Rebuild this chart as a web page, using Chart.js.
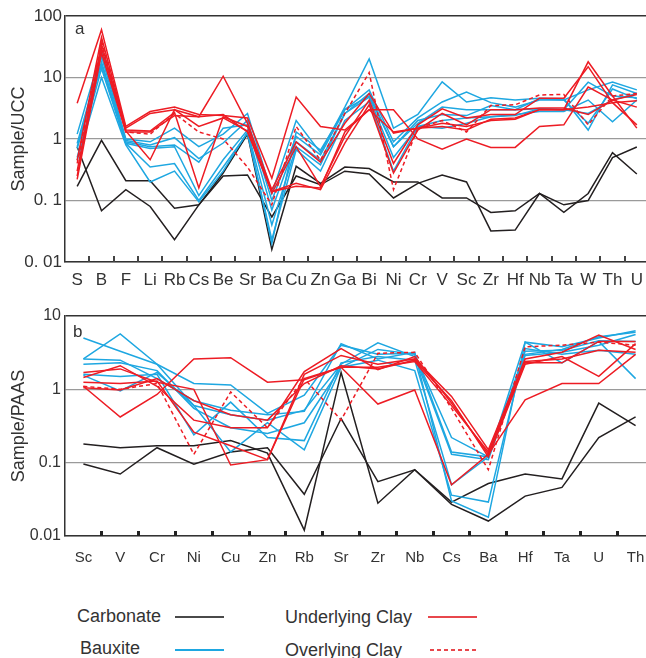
<!DOCTYPE html>
<html>
<head>
<meta charset="utf-8">
<script src="https://cdn.jsdelivr.net/npm/chart.js@4.4.1/dist/chart.umd.min.js"></script>
<style>
  html, body { margin: 0; padding: 0; background: #fff; overflow: hidden; width: 646px; height: 658px; }
  canvas { position: absolute; left: 0; }
  #chartA { top: 0; }
  #chartB { top: 290px; }
  .leg { position: absolute; font-family: "Liberation Sans", Arial, sans-serif; font-size: 18px; line-height: 20px; color: #333; white-space: nowrap; }
  .sw { position: absolute; height: 2px; width: 49px; }
</style>
</head>
<body>
<canvas id="chartA" width="660" height="300"></canvas>
<canvas id="chartB" width="660" height="290"></canvas>

<div class="leg" style="left:77px; top:606px;">Carbonate</div>
<div class="sw" style="left:175px; top:616px; background:#4a4a4a;"></div>
<div class="leg" style="left:80px; top:638px;">Bauxite</div>
<div class="sw" style="left:175px; top:649px; background:#1ea7e1;"></div>
<div class="leg" style="left:285px; top:607px;">Underlying Clay</div>
<div class="sw" style="left:428px; top:616px; background:#e8474c;"></div>
<div class="leg" style="left:285px; top:640px;">Overlying Clay</div>
<div class="sw" style="left:430px; top:649px; background:repeating-linear-gradient(to right,#e8474c 0 4px,transparent 4px 7px);"></div>

<script>
// ---- panel a : normalised to UCC ----
const uccElements = ['S','B','F','Li','Rb','Cs','Be','Sr','Ba','Cu','Zn','Ga','Bi','Ni','Cr','V','Sc','Zr','Hf','Nb','Ta','W','Th','U'];

const uccCarbonate = [
  [0.75,0.068,0.15,0.08,0.023,0.085,0.28,1.2,0.016,0.36,0.19,0.35,0.33,0.2,0.2,0.11,0.11,0.064,0.068,0.13,0.064,0.13,0.6,0.27],
  [0.17,0.95,0.21,0.21,0.075,0.085,0.25,0.26,0.054,0.25,0.18,0.3,0.27,0.11,0.19,0.26,0.2,0.032,0.033,0.13,0.085,0.1,0.5,0.74]
];
const uccBauxite = [
  [1.2,27,1.0,0.9,1.5,0.75,1.2,2.6,0.13,2.0,0.6,3.3,20,1.5,2.5,8.5,4.0,4.7,4.3,4.6,4.5,1.4,7.6,5.5],
  [0.85,22,0.95,0.8,1.05,0.48,0.86,2.0,0.1,1.1,0.55,3.0,6.3,0.9,2.2,4.0,5.8,3.9,3.3,4.3,4.3,6.3,8.4,6.3],
  [0.75,18,0.9,0.75,0.8,0.42,1.5,1.7,0.07,0.9,0.45,2.6,5.5,0.75,1.8,3.3,3.0,3.0,3.0,3.1,3.0,8.4,5.0,4.7],
  [0.7,16,0.85,0.7,0.75,0.12,0.46,1.4,0.04,0.75,0.38,2.6,4.8,0.5,1.6,2.0,2.2,2.3,2.5,2.8,2.8,4.3,1.9,4.3],
  [0.5,14,0.85,0.35,0.4,0.1,0.35,1.25,0.023,0.67,0.3,2.0,4.0,0.3,1.6,1.5,1.8,2.3,2.4,3.1,3.0,2.6,4.3,5.5],
  [0.45,10,0.8,0.2,0.3,0.095,0.3,1.3,0.02,1.3,0.66,3.0,5.0,0.75,2.0,2.5,2.4,3.5,3.0,4.5,4.3,1.8,6.5,4.5]
];
const uccUnderlying = [
  [3.8,60,1.6,2.8,3.3,2.5,2.4,2.2,0.23,4.8,1.6,1.4,3.0,3.0,1.0,0.68,1.0,0.73,0.73,1.6,1.7,7.0,4.3,3.3],
  [0.45,45,1.5,2.6,3.0,2.3,10.5,1.8,0.15,0.9,0.42,1.8,5.5,1.25,1.5,1.6,1.4,2.1,2.2,3.0,3.0,18,5.0,1.5],
  [0.3,35,1.4,1.35,2.7,0.16,2.3,1.6,0.13,0.75,0.17,1.1,4.3,0.4,1.7,3.1,2.2,2.5,2.5,4.6,4.6,15,3.9,1.7],
  [0.25,30,1.35,0.46,3.0,1.6,2.2,1.35,0.14,0.19,0.15,0.86,3.6,0.28,1.4,2.6,1.7,3.0,3.0,3.2,3.2,2.5,4.3,5.3],
  [0.22,25,1.3,1.3,2.4,2.3,2.5,1.3,0.14,0.17,0.16,1.3,3.0,1.3,1.5,1.8,1.6,2.0,2.1,3.0,3.0,3.3,3.9,4.2]
];
const uccOverlying = [
  [0.4,40,1.3,1.2,2.6,1.3,1.0,0.35,0.085,1.6,0.45,2.6,12,0.15,1.5,2.0,1.3,3.5,3.6,5.2,5.3,1.7,5.0,5.5]
];

// ---- panel b : normalised to PAAS ----
const paasElements = ['Sc','V','Cr','Ni','Cu','Zn','Rb','Sr','Zr','Nb','Cs','Ba','Hf','Ta','U','Th'];

const paasCarbonate = [
  [0.18,0.16,0.17,0.17,0.2,0.135,0.012,1.7,0.028,0.08,0.029,0.052,0.07,0.06,0.65,0.32],
  [0.096,0.07,0.16,0.095,0.14,0.16,0.037,0.4,0.055,0.08,0.027,0.016,0.035,0.046,0.22,0.42]
];
const paasBauxite = [
  [5.0,3.3,2.2,1.2,1.15,0.47,0.83,4.0,3.0,3.1,0.14,0.12,4.4,2.3,4.5,1.4],
  [2.6,5.7,2.2,0.6,0.45,0.38,0.52,2.2,4.3,2.8,0.13,0.11,3.0,3.5,5.2,6.0],
  [2.2,2.3,1.8,0.55,0.3,0.25,0.35,2.0,3.5,3.0,0.22,0.12,2.9,3.2,4.0,5.6],
  [1.6,1.5,1.6,0.24,0.67,0.22,0.2,2.3,2.8,2.5,0.05,0.12,3.3,3.4,4.6,4.5],
  [1.55,0.95,1.7,0.6,0.14,0.35,0.15,2.0,2.5,1.8,0.036,0.029,3.6,3.0,3.4,3.0],
  [2.6,2.5,1.4,0.7,0.52,0.45,0.5,4.2,2.6,3.2,0.03,0.018,4.4,3.8,5.0,6.3]
];
const paasUnderlying = [
  [1.1,0.42,0.85,2.6,2.7,1.25,1.35,2.0,0.63,0.98,0.05,0.13,0.72,1.2,1.2,3.0],
  [1.7,1.9,1.25,1.0,0.093,0.11,1.6,2.9,2.2,2.6,0.8,0.15,2.6,3.2,5.5,3.5],
  [1.45,2.1,1.1,0.38,0.3,0.3,1.75,3.6,1.85,2.8,0.65,0.13,2.3,2.3,4.5,4.5],
  [1.25,1.2,1.3,0.26,0.17,0.11,1.4,2.0,2.0,2.4,0.6,0.14,2.4,2.6,3.4,3.2],
  [1.05,0.98,1.4,0.7,0.45,0.38,1.2,2.1,1.9,2.5,0.7,0.12,2.2,2.8,1.5,4.2]
];
const paasOverlying = [
  [1.1,1.0,1.2,0.13,0.92,0.3,1.4,0.38,3.1,3.2,0.55,0.08,3.8,4.0,4.4,4.0]
];

const RED = '#ed1c24', BLUE = '#1ea7e1', BLACK = '#231f20';
const FONT = '"Liberation Sans", Arial, sans-serif';

// small tick marks between categories + panel letter
const panelDecor = {
  id: 'panelDecor',
  afterDraw(chart, args, opts) {
    const {ctx, chartArea: area} = chart;
    const x = chart.scales.x;
    const n = chart.data.labels.length;
    ctx.save();
    ctx.fillStyle = opts.tickColor;
    for (let i = 0; i < n - 1; i++) {
      const px = (x.getPixelForValue(i) + x.getPixelForValue(i + 1)) / 2;
      ctx.fillRect(Math.round(px - opts.tickWidth / 2), area.bottom - opts.tickLen, opts.tickWidth, opts.tickLen);
    }
    ctx.fillStyle = '#333';
    ctx.font = '17px ' + FONT;
    ctx.textBaseline = 'middle';
    ctx.fillText(opts.letter, area.left + opts.lx, area.top + opts.ly);
    ctx.restore();
  }
};

function makePanel(id, labels, groups, cfg) {
  const datasets = [];
  groups.forEach(g => {
    g.rows.forEach(row => {
      datasets.push({
        data: row,
        borderColor: g.color,
        borderDash: g.dash || [],
        borderWidth: 1.5,
        pointRadius: 0,
        tension: 0,
        fill: false
      });
    });
  });

  return new Chart(document.getElementById(id), {
    type: 'line',
    data: { labels: labels, datasets: datasets },
    options: {
      responsive: false,
      animation: false,
      devicePixelRatio: 1,
      layout: { padding: cfg.padding },
      plugins: {
        legend: { display: false },
        tooltip: { enabled: false },
        panelDecor: cfg.decor
      },
      scales: {
        x: {
          offset: true,
          grid: { display: false, drawTicks: false },
          border: { color: '#333', width: 1.5 },
          ticks: {
            color: '#333', autoSkip: false, maxRotation: 0,
            font: { family: FONT, size: cfg.xFont },
            padding: cfg.xPad
          },
          afterFit: s => { s.height = cfg.xHeight; }
        },
        y: {
          type: 'logarithmic',
          min: cfg.yTicks[0],
          max: cfg.yTicks[cfg.yTicks.length - 1],
          afterBuildTicks: s => { s.ticks = cfg.yTicks.map(v => ({ value: v })); },
          afterFit: s => { s.width = 65; },
          border: { color: '#333', width: 1.5 },
          grid: {
            drawTicks: false,
            color: c => (c.tick && c.tick.value === cfg.yTicks[cfg.yTicks.length - 1]) ? '#333' : '#9a9a9a',
            lineWidth: c => (c.tick && c.tick.value === cfg.yTicks[cfg.yTicks.length - 1]) ? 1.5 : 1.2
          },
          ticks: {
            color: '#333',
            padding: cfg.yPad,
            font: { family: FONT, size: cfg.yFont },
            callback: (v, i) => cfg.yLabels[i]
          },
          title: {
            display: true,
            text: cfg.yTitle,
            color: '#333',
            font: { family: FONT, size: 18 },
            padding: { top: 8, bottom: 0 }
          }
        }
      }
    },
    plugins: [panelDecor]
  });
}

makePanel('chartA', uccElements, [
  { rows: uccUnderlying, color: RED },
  { rows: uccOverlying, color: RED, dash: [4, 3] },
  { rows: uccBauxite, color: BLUE },
  { rows: uccCarbonate, color: BLACK }
], {
  padding: { top: 16, right: 11, left: 0, bottom: 0 },
  xFont: 17, xPad: 8, xHeight: 38,
  yTicks: [0.01, 0.1, 1, 10, 100],
  yLabels: ['0. 01', '0. 1', '1', '10', '100'],
  yFont: 17, yPad: 3,
  yTitle: 'Sample/UCC',
  decor: { tickColor: '#444', tickWidth: 2, tickLen: 6, letter: 'a', lx: 10, ly: 13 }
});

makePanel('chartB', paasElements, [
  { rows: paasUnderlying, color: RED },
  { rows: paasOverlying, color: RED, dash: [4, 3] },
  { rows: paasBauxite, color: BLUE },
  { rows: paasCarbonate, color: BLACK }
], {
  padding: { top: 26, right: 6, left: 0, bottom: 0 },
  xFont: 15, xPad: 13, xHeight: 44,
  yTicks: [0.01, 0.1, 1, 10],
  yLabels: ['0.01', '0.1', '1', '10'],
  yFont: 16, yPad: 4,
  yTitle: 'Sample/PAAS',
  decor: { tickColor: '#222', tickWidth: 3, tickLen: 5, letter: 'b', lx: 8, ly: 16 }
});
</script>
</body>
</html>
